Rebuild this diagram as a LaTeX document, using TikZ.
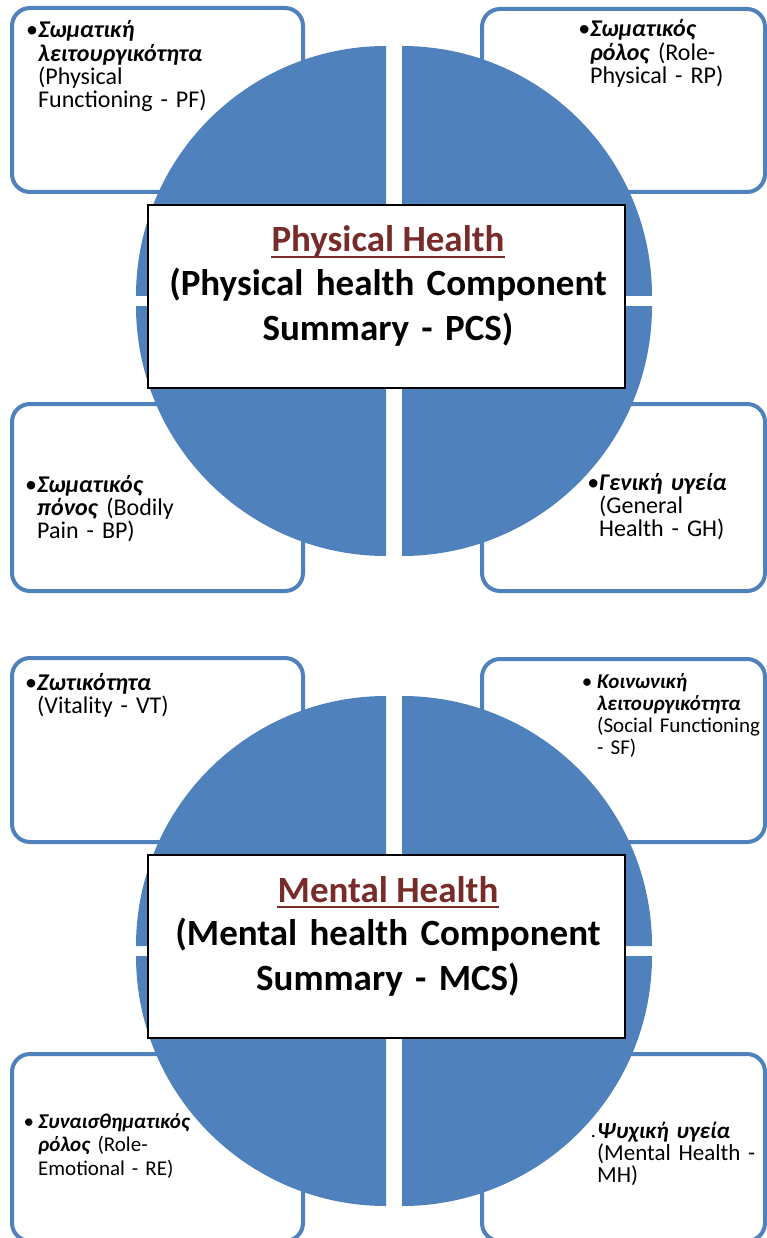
\documentclass[tikz,border=0pt]{standalone}
\usepackage{fontspec}
\setmainfont{Carlito}
\usepackage{tikz}

\definecolor{sfblue}{RGB}{79,129,189}
\definecolor{titlered}{RGB}{119,44,42}

\newcommand{\gr}[1]{\textbf{\textit{#1}}}

\begin{document}
\begin{tikzpicture}[x=1pt,y=-1pt,
	framebox/.style={draw=sfblue,line width=4pt,fill=white,rounded corners=18pt},
	sector/.style={fill=sfblue},
	sumbox/.style={draw=black,line width=1.6pt,fill=white,minimum width=477pt,minimum height=183pt,inner sep=0pt},
	boxtext/.style={anchor=base west,inner sep=0pt,text width=220pt,align=left,
		font=\fontsize{24}{23.3}\selectfont},
	headtext/.style={anchor=base,inner sep=0pt,text=titlered,font=\fontsize{37}{44}\selectfont\bfseries},
	subtext/.style={anchor=base,inner sep=0pt,text width=470pt,align=center,font=\fontsize{37}{45}\selectfont\bfseries}]
		\useasboundingbox (0,0) rectangle (767,1238);
		\clip (0,0) rectangle (767,1238);
		% frames and quarter sectors, same for both panels
		\foreach \dy in {0,650} {
		\begin{scope}[shift={(0,\dy)}]
		\draw[framebox] (12,8) rectangle (303,192);
		\draw[framebox] (482,9) rectangle (765,192);
		\draw[framebox] (12,404) rectangle (303,591);
		\draw[framebox] (482,404) rectangle (765,591);
		\fill[sector] (386,296) -- (136,296) arc[start angle=180,end angle=90,radius=250pt] -- cycle;
		\fill[sector] (402,296) -- (402,46) arc[start angle=90,end angle=0,radius=250pt] -- cycle;
		\fill[sector] (402,306) -- (652,306) arc[start angle=0,end angle=-90,radius=250pt] -- cycle;
		\fill[sector] (386,306) -- (386,556) arc[start angle=270,end angle=180,radius=250pt] -- cycle;
		\end{scope}
		}
		% physical health
		\node[sumbox] (pcsbox) at (386.5,296.5) {};
		\node[headtext] (pcshead) at (388,252) {Physical Health};
		\draw[titlered,line width=2pt] ([yshift=-5pt]pcshead.base west) -- ([yshift=-5pt]pcshead.base east);
		\node[subtext] (pcssub) at (388,295) {(Physical health Component\\Summary - PCS)};
		\node[boxtext] (pf) at (38,38) {\llap{•}\gr{Σωματική}\\\gr{λειτουργικότητα}\\(Physical\\Functioning - PF)};
		\node[boxtext] (rp) at (590,37) {\llap{•}\gr{Σωματικός}\\\gr{ρόλος} (Role-\\Physical - RP)};
		\node[boxtext] (bp) at (37,492) {\llap{•}\gr{Σωματικός}\\\gr{πόνος} (Bodily\\Pain - BP)};
		\node[boxtext] (gh) at (599,490) {\llap{•}\gr{Γενική υγεία}\\(General\\Health - GH)};
		% mental health
		\node[sumbox] (mcsbox) at (386.5,946.5) {};
		\node[headtext] (mcshead) at (388,902) {Mental Health};
		\draw[titlered,line width=2pt] ([yshift=-5pt]mcshead.base west) -- ([yshift=-5pt]mcshead.base east);
		\node[subtext] (mcssub) at (388,945) {(Mental health Component\\Summary - MCS)};
		\node[boxtext] (vt) at (37,690) {\llap{•}\gr{Ζωτικότητα}\\(Vitality - VT)};
		\node[boxtext,font=\fontsize{21}{22.3}\selectfont] (sf) at (597,688) {\llap{•\hspace{5pt}}\gr{Κοινωνική}\\\gr{λειτουργικότητα}\\(Social Functioning\\- SF)};
		\node[boxtext,font=\fontsize{21}{23.5}\selectfont] (re) at (38,1128) {\llap{•\hspace{4pt}}\gr{Συναισθηματικός}\\\gr{ρόλος} (Role-\\Emotional - RE)};
		\node[boxtext,font=\fontsize{23}{22.3}\selectfont] (mh) at (597,1138) {\llap{\scriptsize•\hspace{2pt}}\gr{Ψυχική υγεία}\\(Mental Health -\\MH)};
		\end{tikzpicture}
\end{document}
